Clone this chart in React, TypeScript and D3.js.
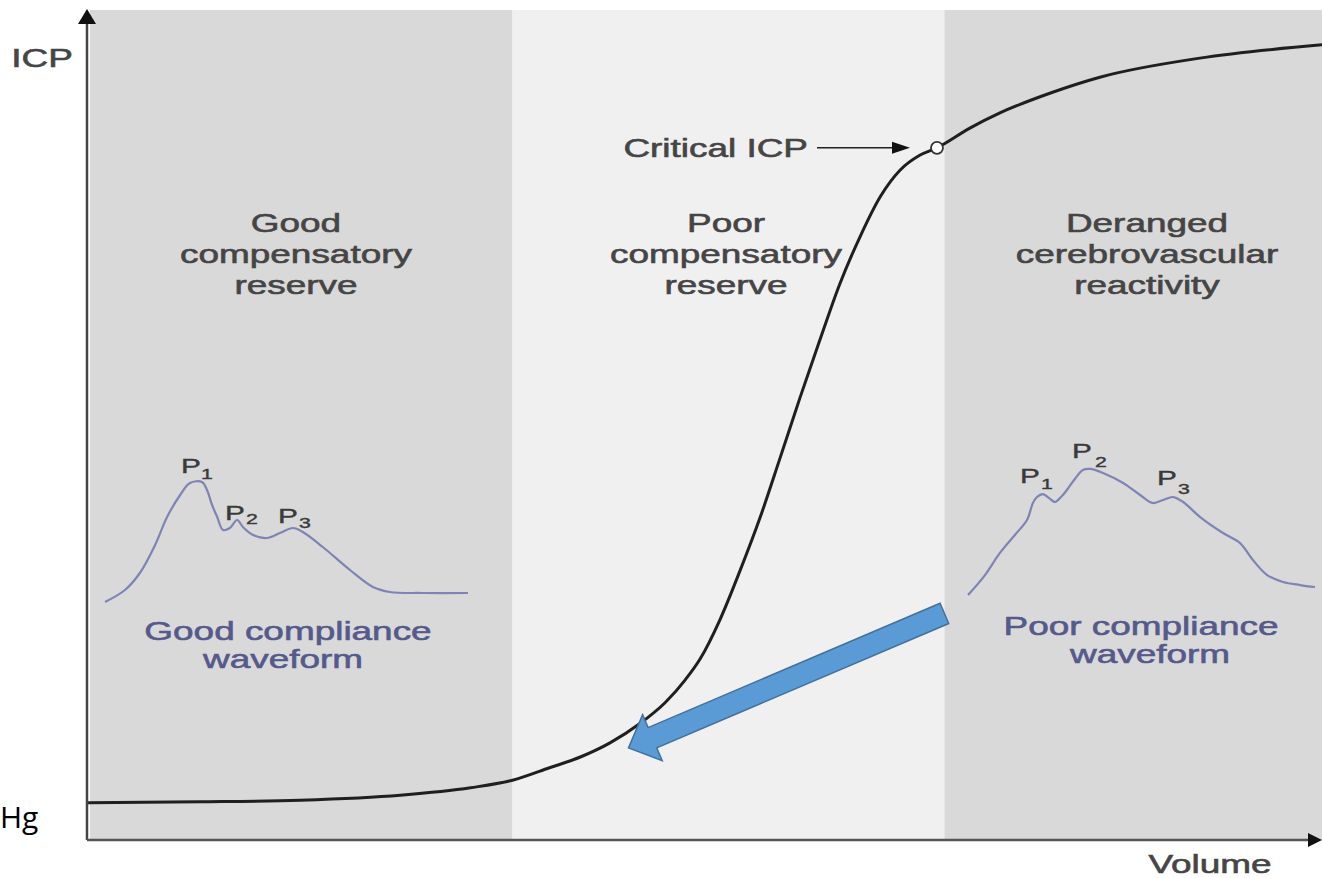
import React from "react";
import * as d3 from "d3";

// ---- Data ----
const volume = [0, 0.91, 1.72, 2.53, 3.1, 3.44, 3.74, 3.99, 4.23, 4.47, 4.68, 4.84, 4.96, 5.12, 5.28, 5.45, 5.61, 5.77, 5.93, 6.09, 6.26, 6.42, 6.58, 6.74, 6.88, 7.15, 7.39, 7.8, 8.2, 9.01, 10];
const icp = [0.45, 0.46, 0.48, 0.54, 0.63, 0.72, 0.87, 1.0, 1.17, 1.4, 1.66, 1.93, 2.18, 2.65, 3.23, 3.9, 4.61, 5.33, 6.02, 6.69, 7.28, 7.75, 8.07, 8.25, 8.34, 8.58, 8.76, 9.0, 9.19, 9.42, 9.58];
const critical = { v: 6.88, icp: 8.34 };

const regionEdges = [0, 3.44, 6.94, 10];
const regionFills = ["#d9d9d9", "#f1f0f1", "#d9d9d9"];
const regionLabels = [
  ["Good", "compensatory", "reserve"],
  ["Poor", "compensatory", "reserve"],
  ["Deranged", "cerebrovascular", "reactivity"],
];
const regionLabelX = [296, 726, 1147];

// good compliance waveform (t 0..100, amplitude 0..100)
const goodT = [0, 5.5, 9.6, 13.8, 17.1, 20.7, 23.4, 26.7, 28.1, 29.5, 30.9, 32.5, 34.4, 36.4, 38, 40.8, 44.6, 48.2, 51.8, 54.5, 60, 67.5, 73.8, 78.5, 87.6, 100];
const goodA = [2.4, 12, 25.6, 48, 70.4, 88, 97.6, 98.4, 92, 80, 70.4, 60, 61.6, 68, 62.4, 56, 53.6, 57.6, 61.6, 58.4, 46.4, 28, 14.4, 10.4, 9.6, 9.6];
// poor compliance waveform
const poorT = [0, 4.9, 9.2, 13.5, 17, 18.7, 19.9, 21.6, 23.3, 25.1, 26.8, 28.5, 30.8, 33.1, 35.2, 38.9, 44.7, 49.6, 53.3, 56.2, 59.1, 62, 66.9, 73.5, 78.4, 82.1, 86.2, 90.8, 95.7, 100];
const poorA = [3.8, 19.2, 36.2, 50, 61.5, 74.6, 79.2, 81.5, 78.5, 75.4, 79.2, 84.6, 93.1, 100, 100.8, 97.7, 90, 80.8, 74.6, 76.9, 79.2, 75.4, 63.8, 51.5, 43.8, 30.8, 19.2, 13.8, 11.5, 10];

const peakNames = ["1", "2", "3"];
const goodPeakPos = [[181, 473, 201, 479], [225, 520, 246, 524], [278, 523, 299, 528]];
const poorPeakPos = [[1020, 483, 1041, 489], [1072, 458, 1095, 467], [1157, 485, 1178, 494]];

// blue arrow (data coords: tail -> tip)
const blueArrow = { from: [6.94, 2.73], to: [4.38, 1.11] };

const W = 1322;
const H = 878;
const SX = 1.42;
const GRAY_TXT = "#454545";
const BLUE_TXT = "#555a8b";
const FONT = "'Liberation Sans', Arial, sans-serif";

function Label({ x, y, text, size = 26, fill = GRAY_TXT, anchor = "middle", weight = 0.6 }: any) {
  return (
    <text
      transform={`translate(${x},${y}) scale(${SX},1)`}
      textAnchor={anchor}
      fontFamily={FONT}
      fontSize={size}
      fill={fill}
      stroke={fill}
      strokeWidth={weight}
    >
      {text}
    </text>
  );
}

export default function App() {
  const x = d3.scaleLinear().domain([0, 10]).range([88, 1322]);
  const y = d3.scaleLinear().domain([0, 10]).range([840, 10]);

  const curve = d3
    .line<number>()
    .x((d, i) => x(volume[i]))
    .y((d, i) => y(icp[i]))
    .curve(d3.curveMonotoneX)(volume) as string;

  const gx = d3.scaleLinear().domain([0, 100]).range([105, 468]);
  const gy = d3.scaleLinear().domain([0, 100]).range([605, 480]);
  const px = d3.scaleLinear().domain([0, 100]).range([968, 1315]);
  const py = d3.scaleLinear().domain([0, 100]).range([600, 470]);

  const goodPath = d3
    .line<number>()
    .x((d, i) => gx(goodT[i]))
    .y((d, i) => gy(goodA[i]))
    .curve(d3.curveCatmullRom.alpha(0.5))(goodT) as string;
  const poorPath = d3
    .line<number>()
    .x((d, i) => px(poorT[i]))
    .y((d, i) => py(poorA[i]))
    .curve(d3.curveCatmullRom.alpha(0.5))(poorT) as string;

  // blue arrow polygon
  const tx = x(blueArrow.from[0]), ty = y(blueArrow.from[1]);
  const hx = x(blueArrow.to[0]), hy = y(blueArrow.to[1]);
  const len = Math.hypot(hx - tx, hy - ty);
  const ux = (hx - tx) / len, uy = (hy - ty) / len;
  const nx = -uy, ny = ux;
  const sw = 11, hw = 25, hl = 26;
  const bx = hx - ux * hl, by = hy - uy * hl;
  const arrowPts = [
    [tx + nx * sw, ty + ny * sw],
    [bx + nx * sw, by + ny * sw],
    [bx + nx * hw, by + ny * hw],
    [hx, hy],
    [bx - nx * hw, by - ny * hw],
    [bx - nx * sw, by - ny * sw],
    [tx - nx * sw, ty - ny * sw],
  ]
    .map((p) => p.join(","))
    .join(" ");

  const cx = x(critical.v), cy = y(critical.icp);

  return (
    <svg
      width={W}
      height={H}
      style={{ position: "absolute", left: 0, top: 0, background: "#ffffff" }}
    >
      {/* region backgrounds */}
      {regionFills.map((f, i) => (
        <rect
          key={i}
          x={i === 0 ? x(regionEdges[i]) + 2 : x(regionEdges[i])}
          y={y(10)}
          width={x(regionEdges[i + 1]) - x(regionEdges[i]) - (i === 0 ? 2 : 0)}
          height={y(0) - y(10)}
          fill={f}
        />
      ))}

      {/* region labels */}
      {regionLabels.map((lines, i) =>
        lines.map((t, j) => (
          <Label key={`${i}-${j}`} x={regionLabelX[i]} y={232 + j * 31} text={t} />
        ))
      )}

      {/* waveforms */}
      <path d={goodPath} fill="none" stroke="#7e84b3" strokeWidth={2.2} />
      <path d={poorPath} fill="none" stroke="#7e84b3" strokeWidth={2.2} />
      {goodPeakPos.map((p, i) => (
        <g key={`gp${i}`}>
          <Label x={p[0]} y={p[1]} text="P" size={21} fill="#3a3a3a" anchor="start" weight={0.4} />
          <Label x={p[2]} y={p[3]} text={peakNames[i]} size={15} fill="#3a3a3a" anchor="start" weight={0.4} />
        </g>
      ))}
      {poorPeakPos.map((p, i) => (
        <g key={`pp${i}`}>
          <Label x={p[0]} y={p[1]} text="P" size={21} fill="#3a3a3a" anchor="start" weight={0.4} />
          <Label x={p[2]} y={p[3]} text={peakNames[i]} size={15} fill="#3a3a3a" anchor="start" weight={0.4} />
        </g>
      ))}
      <Label x={288} y={640} text="Good compliance" fill={BLUE_TXT} />
      <Label x={283} y={668} text="waveform" fill={BLUE_TXT} />
      <Label x={1141} y={635} text="Poor compliance" fill={BLUE_TXT} />
      <Label x={1150} y={663} text="waveform" fill={BLUE_TXT} />

      {/* main curve */}
      <path d={curve} fill="none" stroke="#1f1f1f" strokeWidth={3} />

      {/* critical ICP */}
      <Label x={808} y={157} text="Critical ICP" anchor="end" />
      <line x1={817} y1={cy} x2={896} y2={cy} stroke="#222" strokeWidth={1.5} />
      <path d={`M${cx - 27},${cy} L${cx - 45},${cy - 6} L${cx - 45},${cy + 6} Z`} fill="#111" />
      <circle cx={cx} cy={cy} r={6} fill="#ffffff" stroke="#333" strokeWidth={1.8} />

      {/* blue arrow */}
      <polygon points={arrowPts} fill="#5b9bd5" stroke="#41719c" strokeWidth={1.5} strokeLinejoin="miter" />

      {/* axes */}
      <line x1={87} y1={y(0)} x2={87} y2={20} stroke="#444" strokeWidth={2.5} />
      <path d="M87,9 L78,24 L96,24 Z" fill="#111" />
      <line x1={87} y1={y(0)} x2={1312} y2={y(0)} stroke="#555" strokeWidth={2.5} />
      <path d={`M1322,${y(0)} L1308,${y(0) - 7} L1308,${y(0) + 7} Z`} fill="#111" />

      <Label x={42} y={67} text="ICP" />
      <Label x={1210} y={873} text="Volume" />
      <text x={0} y={828} fontFamily="'Open Sans', sans-serif" fontSize={30} fill="#000">
        Hg
      </text>
    </svg>
  );
}
